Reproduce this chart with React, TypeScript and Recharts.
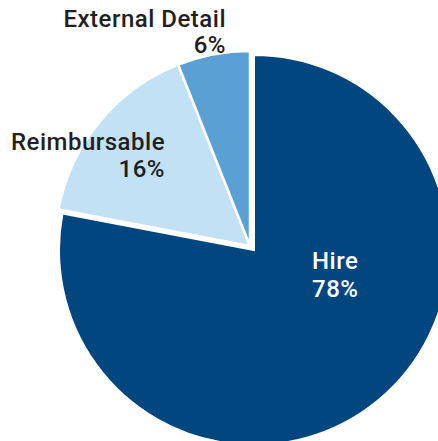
import { Cell, Pie, PieChart } from 'recharts';

const categories = ['Hire', 'Reimbursable', 'External Detail'];
const shares = [78, 16, 6];
const colors = ['#02467f', '#c2e1f5', '#5aa0d4'];

const data = categories.map((name, i) => ({ name, value: shares[i] }));

// label placement relative to the slice's pie centre
const labelLayout: Record<string, { dx: number; dy: number; gap: number; anchor: 'start' | 'end'; color: string }> = {
  Hire: { dx: 58, dy: 19, gap: 28, anchor: 'start', color: '#ffffff' },
  'External Detail': { dx: -24, dy: -219, gap: 26, anchor: 'end', color: '#231f20' },
  Reimbursable: { dx: -85, dy: -96, gap: 27, anchor: 'end', color: '#231f20' },
};

const font = { fontFamily: 'Roboto, "Liberation Sans", Arial, sans-serif', fontSize: 24, fontWeight: 500, letterSpacing: 0.5 };

function makeLabel(show: (name: string) => boolean) {
  return (p: any) => {
    if (!show(p.name)) return null;
    const l = labelLayout[p.name];
    const x = p.cx + l.dx;
    const y = p.cy + l.dy;
    return (
      <text x={x} y={y} textAnchor={l.anchor} fill={l.color} style={font}>
        <tspan x={x} y={y}>{p.name}</tspan>
        <tspan x={x} y={y + l.gap}>{`${p.value}%`}</tspan>
      </text>
    );
  };
}

const isHire = (n: string) => n === 'Hire';

export default function App() {
  return (
    <div style={{ position: 'absolute', left: 0, top: 0, background: '#fff' }}>
      <PieChart width={438} height={441} margin={{ top: 0, right: 0, bottom: 0, left: 0 }}>
        {/* Hire is pulled out a little towards the lower right */}
        <Pie data={data} dataKey="value" nameKey="name" cx={254} cy={250} outerRadius={195}
          startAngle={90} endAngle={-270} labelLine={false} label={makeLabel(isHire)}
          isAnimationActive={false}>
          {data.map((d, i) => (
            <Cell key={d.name} fill={isHire(d.name) ? colors[i] : 'transparent'}
              stroke={isHire(d.name) ? '#ffffff' : 'none'} strokeWidth={2} />
          ))}
        </Pie>
        <Pie data={data} dataKey="value" nameKey="name" cx={250} cy={246} outerRadius={195}
          startAngle={90} endAngle={-270} labelLine={false} label={makeLabel((n) => !isHire(n))}
          isAnimationActive={false}>
          {data.map((d, i) => (
            <Cell key={d.name} fill={isHire(d.name) ? 'transparent' : colors[i]}
              stroke={isHire(d.name) ? 'none' : '#ffffff'} strokeWidth={2.5} />
          ))}
        </Pie>
      </PieChart>
    </div>
  );
}
